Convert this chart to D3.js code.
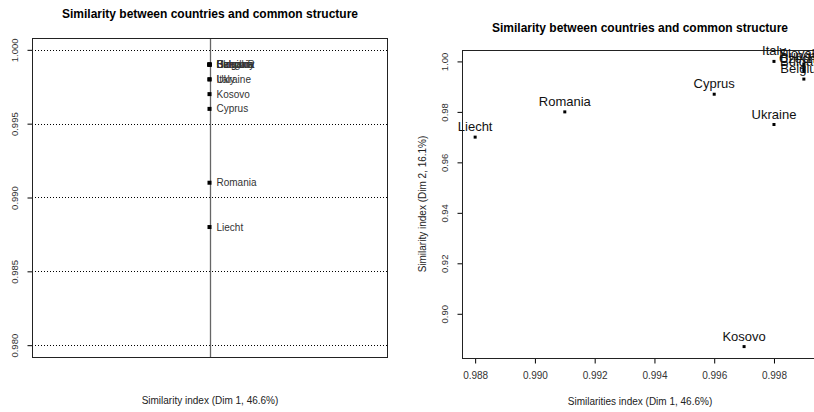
<!DOCTYPE html>
<html>
<head>
<meta charset="utf-8">
<script src="https://cdn.jsdelivr.net/npm/d3@7"></script>
<style>
  body { margin: 0; background: #fff; }
  svg { font-family: "Liberation Sans", Arial, sans-serif; display: block; }
</style>
</head>
<body>
<div id="chart"></div>
<script>
// countries and their similarity indices
const countries = ["Belgium", "Bulgaria", "Slovakia", "Czech R", "Hungary", "Italy", "Ukraine", "Kosovo", "Cyprus", "Romania", "Liecht"];
const dim1 = [0.999, 0.999, 0.999, 0.999, 0.999, 0.998, 0.998, 0.997, 0.996, 0.991, 0.988];
const dim2 = [0.993, 0.996, 0.999, 0.997, 0.998, 1.000, 0.975, 0.887, 0.987, 0.980, 0.970];

const leftTicks = [0.980, 0.985, 0.990, 0.995, 1.000];
const rightXTicks = [0.988, 0.990, 0.992, 0.994, 0.996, 0.998];
const rightYTicks = [0.90, 0.92, 0.94, 0.96, 0.98, 1.00];

const title = "Similarity between countries and common structure";

const width = 814, height = 412;

// R style 4% padding of the axis range
function pad (ext) {
	const p = (ext[1] - ext[0]) * 0.04;
	return [ext[0] - p, ext[1] + p];
}

const svg = d3.select("#chart")
	.append("svg")
	.attr("width", width)
	.attr("height", height);

/* ---------- left panel ---------- */
const L = {left: 32, right: 387, top: 38, bottom: 357};
const yL = d3.scaleLinear().domain(pad([0.98, 1.0])).range([L.bottom, L.top]);
const xL = d3.scaleLinear().domain([-1, 1]).range([L.left, L.right]);

const gl = svg.append("g");

gl.append("text")
	.attr("x", 210).attr("y", 18)
	.attr("text-anchor", "middle")
	.style("font-size", "12px").style("font-weight", "bold")
	.text(title);

// dotted grid lines
gl.selectAll(".gridL")
	.data(leftTicks)
	.enter()
	.append("line")
		.attr("x1", L.left).attr("x2", L.right)
		.attr("y1", d => Math.round(yL(d)) + 0.5).attr("y2", d => Math.round(yL(d)) + 0.5)
		.attr("stroke", "#000").attr("stroke-dasharray", "1,2")

// vertical reference line
gl.append("line")
	.attr("x1", Math.round(xL(0)) + 0.5).attr("x2", Math.round(xL(0)) + 0.5)
	.attr("y1", L.top).attr("y2", L.bottom)
	.attr("stroke", "#666").attr("stroke-width", 1.3)

gl.append("g")
	.attr("transform", "translate(" + (L.left + 0.5) + ",0)")
	.call(d3.axisLeft(yL).tickValues(leftTicks).tickSize(5).tickFormat(d3.format(".3f")))
	.call(g => g.select(".domain").remove())
	.call(g => g.selectAll(".tick line").attr("stroke", "#000"))
	.call(g => g.selectAll(".tick text")
		.attr("transform", "rotate(-90)")
		.attr("x", 0).attr("y", -15).attr("dy", 0)
		.style("text-anchor", "middle")
		.style("font-size", "9.5px").style("fill", "#333")
		.style("font-family", "Liberation Sans, Arial, sans-serif"));

gl.append("rect")
	.attr("x", L.left + 0.5).attr("y", L.top + 0.5)
	.attr("width", L.right - L.left).attr("height", L.bottom - L.top)
	.attr("fill", "none").attr("stroke", "#222")

gl.selectAll(".ptL")
	.data(countries)
	.enter()
	.append("rect")
		.attr("x", (d, i) => xL(0) - 2)
		.attr("y", (d, i) => yL(dim1[i]) - 2)
		.attr("width", 4).attr("height", 4)
		.attr("fill", "#000")

gl.selectAll(".lbL")
	.data(countries)
	.enter()
	.append("text")
		.attr("x", xL(0) + 7)
		.attr("y", (d, i) => yL(dim1[i]) + 3.5)
		.style("font-size", "10px").style("fill", "#333")
		.text(d => d)

gl.append("text")
	.attr("x", 210).attr("y", 404)
	.attr("text-anchor", "middle")
	.style("font-size", "10px").style("fill", "#222")
	.text("Similarity index (Dim 1, 46.6%)");

/* ---------- right panel ---------- */
const R = {left: 462, right: 817, top: 50, bottom: 358};
const xR = d3.scaleLinear().domain(pad(d3.extent(dim1))).range([R.left, R.right]);
const yR = d3.scaleLinear().domain(pad(d3.extent(dim2))).range([R.bottom, R.top]);

const gr = svg.append("g");

gr.append("text")
	.attr("x", 640).attr("y", 32)
	.attr("text-anchor", "middle")
	.style("font-size", "12px").style("font-weight", "bold")
	.text(title);

gr.append("g")
	.attr("transform", "translate(" + (R.left + 0.5) + ",0)")
	.call(d3.axisLeft(yR).tickValues(rightYTicks).tickSize(5).tickFormat(d3.format(".2f")))
	.call(g => g.select(".domain").remove())
	.call(g => g.selectAll(".tick line").attr("stroke", "#000"))
	.call(g => g.selectAll(".tick text")
		.attr("transform", "rotate(-90)")
		.attr("x", 0).attr("y", -15).attr("dy", 0)
		.style("text-anchor", "middle")
		.style("font-size", "9.5px").style("fill", "#333")
		.style("font-family", "Liberation Sans, Arial, sans-serif"));

gr.append("g")
	.attr("transform", "translate(0," + (R.bottom + 0.5) + ")")
	.call(d3.axisBottom(xR).tickValues(rightXTicks).tickSize(5).tickFormat(d3.format(".3f")))
	.call(g => g.select(".domain").remove())
	.call(g => g.selectAll(".tick line").attr("stroke", "#000"))
	.call(g => g.selectAll(".tick text")
		.attr("y", 20).attr("dy", 0)
		.style("font-size", "10px").style("fill", "#333")
		.style("font-family", "Liberation Sans, Arial, sans-serif"));

gr.append("rect")
	.attr("x", R.left + 0.5).attr("y", R.top + 0.5)
	.attr("width", R.right - R.left).attr("height", R.bottom - R.top)
	.attr("fill", "none").attr("stroke", "#222")

gr.selectAll(".ptR")
	.data(countries)
	.enter()
	.append("rect")
		.attr("x", (d, i) => xR(dim1[i]) - 1.5)
		.attr("y", (d, i) => yR(dim2[i]) - 1.5)
		.attr("width", 3).attr("height", 3)
		.attr("fill", "#000")

gr.selectAll(".lbR")
	.data(countries)
	.enter()
	.append("text")
		.attr("x", (d, i) => xR(dim1[i]))
		.attr("y", (d, i) => yR(dim2[i]) - 6)
		.attr("text-anchor", "middle")
		.style("font-size", "13px").style("fill", "#111")
		.text(d => d)

gr.append("text")
	.attr("x", 640).attr("y", 405)
	.attr("text-anchor", "middle")
	.style("font-size", "10px").style("fill", "#222")
	.text("Similarities index (Dim 1, 46.6%)");

gr.append("text")
	.attr("transform", "translate(426," + ((R.top + R.bottom) / 2) + ") rotate(-90)")
	.attr("text-anchor", "middle")
	.style("font-size", "10px").style("fill", "#222")
	.text("Similarity index (Dim 2, 16.1%)");
</script>
</body>
</html>
